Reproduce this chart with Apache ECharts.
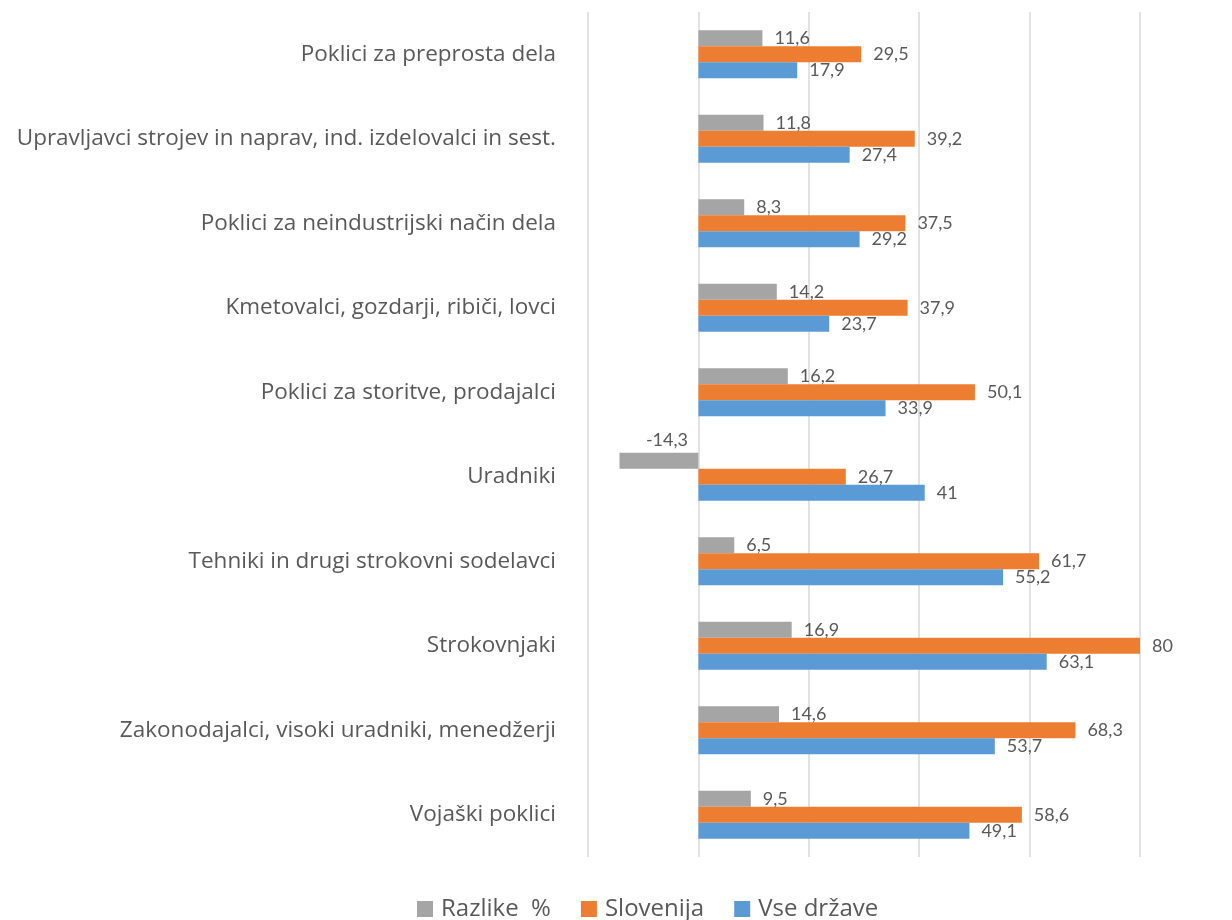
<!DOCTYPE html>
<html>
<head>
<meta charset="utf-8">
<script src="https://cdn.jsdelivr.net/npm/echarts@6/dist/echarts.min.js"></script>
<style>
    html, body { margin: 0; padding: 0; background: #fff; }
    #chart { width: 1232px; height: 920px; }
</style>
</head>
<body>
<div id="chart"></div>
<script>
    // categories from top to bottom
    var categories = [
        'Poklici za preprosta dela',
        'Upravljavci strojev in naprav, ind. izdelovalci in sest.',
        'Poklici za neindustrijski način dela',
        'Kmetovalci, gozdarji, ribiči, lovci',
        'Poklici za storitve, prodajalci',
        'Uradniki',
        'Tehniki in drugi strokovni sodelavci',
        'Strokovnjaki',
        'Zakonodajalci, visoki uradniki, menedžerji',
        'Vojaški poklici'
    ];
    var razlike = [11.6, 11.8, 8.3, 14.2, 16.2, -14.3, 6.5, 16.9, 14.6, 9.5];
    var slovenija = [29.5, 39.2, 37.5, 37.9, 50.1, 26.7, 61.7, 80, 68.3, 58.6];
    var vseDrzave = [17.9, 27.4, 29.2, 23.7, 33.9, 41, 55.2, 63.1, 53.7, 49.1];
    var seriesNames = ['Razlike  %', 'Slovenija', 'Vse države'];
    var colors = ['#a5a5a5', '#ed7d31', '#5b9bd5'];

    var textColor = '#595959';
    var labelFont = '"Open Sans", "Noto Sans", sans-serif';
    var numFont = 'Lato, "Noto Sans", sans-serif';

    function fmt(p) {
        return String(p.value).replace('.', ',');
    }

    function makeData(arr) {
        return arr.map(function (v) {
            if (v < 0) {
                // negative label sits above the bar, like excel does it
                return { value: v, label: { position: 'top', distance: 4, offset: [8, 0] } };
            }
            return v;
        });
    }

    var chart = echarts.init(document.getElementById('chart'));
    var lists = [razlike, slovenija, vseDrzave];

    chart.setOption({
        animation: false,
        textStyle: { fontFamily: labelFont },
        grid: { left: 588, right: 92, top: 12, bottom: 63, containLabel: false },
        legend: {
            top: 892,
            left: 412,
            icon: 'rect',
            itemWidth: 16,
            itemHeight: 16,
            itemGap: 30,
            itemStyle: { borderWidth: 0 },
            data: seriesNames,
            textStyle: { color: textColor, fontSize: 24, fontFamily: labelFont, padding: [0, 0, 0, 3] }
        },
        xAxis: {
            type: 'value',
            min: -20,
            max: 80,
            interval: 20,
            axisLabel: { show: false },
            axisLine: { show: false },
            axisTick: { show: false },
            splitLine: { lineStyle: { color: '#d9d9d9', width: 1.5 } }
        },
        yAxis: {
            type: 'category',
            inverse: true,
            data: categories,
            axisLine: { show: false },
            axisTick: { show: false },
            axisLabel: { color: textColor, fontSize: 22.5, margin: 32, fontFamily: labelFont }
        },
        series: seriesNames.map(function (name, i) {
            return {
                name: name,
                type: 'bar',
                barWidth: 16,
                barGap: '0%',
                data: makeData(lists[i]),
                itemStyle: { color: colors[i] },
                label: {
                    show: true,
                    position: 'right',
                    distance: 12,
                    color: textColor,
                    fontSize: 18,
                    fontFamily: numFont,
                    formatter: fmt
                }
            };
        })
    });
</script>
</body>
</html>
